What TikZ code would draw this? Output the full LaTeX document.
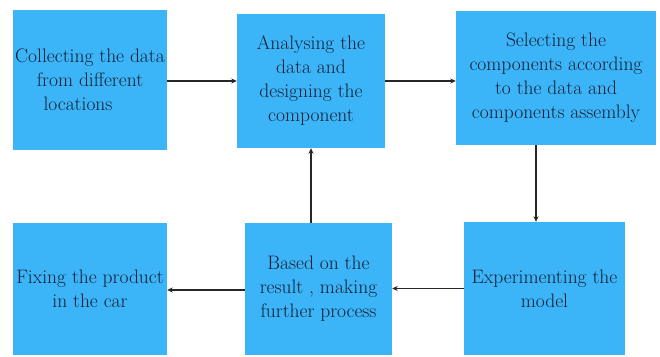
\documentclass[tikz,border=0pt]{standalone}
\usetikzlibrary{arrows.meta}
\definecolor{boxblue}{RGB}{60,180,248}
\definecolor{txt}{RGB}{18,32,52}
\begin{document}
\begin{tikzpicture}[x=1pt,y=-1pt,
  stepbox/.style={fill=boxblue, draw=none, align=center, text=txt,
    font=\fontsize{19.5}{24}\selectfont, inner sep=0pt},
  flow/.style={draw=black!85, line width=1.3pt, -{Stealth[length=5.5pt,width=5pt]}}]
\useasboundingbox (0,0) rectangle (660,356);
\node[stepbox, minimum width=154pt, minimum height=140pt] (b1) at (90,80)
  {Collecting the data\\from different\\locations\hspace*{24pt}};
\node[stepbox, minimum width=148pt, minimum height=134pt] (b2) at (311,81)
  {Analysing the\\data and\\designing the\\component};
\node[stepbox, minimum width=200pt, minimum height=134pt] (b3) at (556,78)
  {Selecting the\\components according\\to the data and\\components assembly};
\node[stepbox, minimum width=154pt, minimum height=132pt] (b4) at (90,289)
  {Fixing the product\\in the car};
\node[stepbox, minimum width=147pt, minimum height=132pt] (b5) at (318.5,289)
  {Based on the\\result , making\\further process};
\node[stepbox, minimum width=161pt, minimum height=133pt] (b6) at (544.5,288.5)
  {Experimenting the\\model};
\coordinate (c1) at ([yshift=-1pt]b1.east);
\draw[flow] (c1) -- (c1 -| b2.west);
\draw[flow] (b2.east) -- (b2.east -| b3.west);
\coordinate (c3) at ([xshift=-20pt]b3.south);
\draw[flow] (c3) -- (c3 |- b6.north);
\draw[flow] (b6.west) -- (b6.west -| b5.east);
\coordinate (c5) at ([yshift=-1pt]b5.west);
\draw[flow] (c5) -- (c5 -| b4.east);
\draw[flow] (b2.south |- b5.north) -- (b2.south);
\end{tikzpicture}
\end{document}
